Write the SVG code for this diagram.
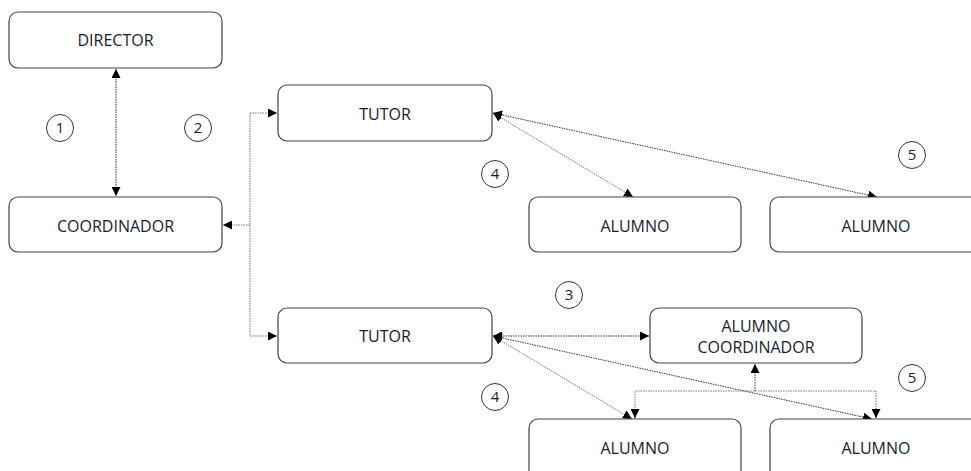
<svg xmlns="http://www.w3.org/2000/svg" width="971" height="471" viewBox="0 0 971 471">
<defs>
<marker id="ah" viewBox="0 0 10 10" refX="10" refY="5" markerWidth="9" markerHeight="9" markerUnits="userSpaceOnUse" orient="auto-start-reverse">
<path d="M0,0 L10,5 L0,10 z" fill="#000"/>
</marker>
<style>
.box{fill:#fff;stroke:#444;stroke-width:1.2}
.t{font-family:"Open Sans","Liberation Sans",sans-serif;font-size:16px;fill:#1b1b2e;text-anchor:middle}
.c{fill:#fff;stroke:#333;stroke-width:1}
.n{font-family:"Open Sans","Liberation Sans",sans-serif;font-size:15px;fill:#1b1b2e;text-anchor:middle}
.ln{fill:none;stroke:#777;stroke-width:1;stroke-dasharray:1.5 1}
.dk{stroke:#333}
</style>
</defs>
<rect width="971" height="471" fill="#fff"/>
<g id="connectors">
<line class="ln dk" x1="116" y1="69" x2="116" y2="196" marker-start="url(#ah)" marker-end="url(#ah)"/>
<path class="ln" d="M250,225 H223" marker-end="url(#ah)"/>
<path class="ln" d="M250,113 V336"/>
<path class="ln" d="M250,113 H277" marker-end="url(#ah)"/>
<path class="ln" d="M250,336 H277" marker-end="url(#ah)"/>
<line class="ln" x1="493" y1="113" x2="633" y2="197" marker-start="url(#ah)" marker-end="url(#ah)"/>
<line class="ln dk" x1="493" y1="113" x2="877" y2="197" marker-start="url(#ah)" marker-end="url(#ah)"/>
<line class="ln dk" x1="493" y1="336" x2="649" y2="336" marker-start="url(#ah)" marker-end="url(#ah)"/>
<line class="ln" x1="493" y1="336" x2="632" y2="419" marker-start="url(#ah)" marker-end="url(#ah)"/>
<line class="ln dk" x1="493" y1="336" x2="872" y2="419" marker-start="url(#ah)" marker-end="url(#ah)"/>
<path class="ln dk" d="M755,391 V364" marker-end="url(#ah)"/>
<path class="ln" d="M635,418 V391 H876 V418"/>
<path class="ln dk" d="M635,409 V418" marker-end="url(#ah)"/>
<path class="ln dk" d="M876,409 V418" marker-end="url(#ah)"/>
</g>
<g id="director"><rect class="box" x="9" y="12" width="213" height="56" rx="9"/><text class="t" x="115.5" y="46">DIRECTOR</text></g>
<g id="coordinador"><rect class="box" x="9" y="197" width="213" height="55" rx="9"/><text class="t" x="115.5" y="232">COORDINADOR</text></g>
<g id="tutor1"><rect class="box" x="278" y="85" width="214" height="56" rx="9"/><text class="t" x="385" y="120">TUTOR</text></g>
<g id="tutor2"><rect class="box" x="278" y="308" width="214" height="55" rx="9"/><text class="t" x="385" y="342">TUTOR</text></g>
<g id="alumno1"><rect class="box" x="529" y="197" width="212" height="55" rx="9"/><text class="t" x="635" y="232">ALUMNO</text></g>
<g id="alumno2"><rect class="box" x="770" y="197" width="212" height="55" rx="9"/><text class="t" x="876" y="232">ALUMNO</text></g>
<g id="alumnoCoord"><rect class="box" x="650" y="308" width="212" height="55" rx="9"/><text class="t" x="756" y="332">ALUMNO</text><text class="t" x="756" y="353">COORDINADOR</text></g>
<g id="alumno3"><rect class="box" x="529" y="419" width="212" height="60" rx="9"/><text class="t" x="635" y="454">ALUMNO</text></g>
<g id="alumno4"><rect class="box" x="770" y="419" width="212" height="60" rx="9"/><text class="t" x="876" y="454">ALUMNO</text></g>
<g id="n1"><circle class="c" cx="60" cy="128" r="13.5"/><text class="n" x="60" y="133">1</text></g>
<g id="n2"><circle class="c" cx="198" cy="128" r="13.5"/><text class="n" x="198" y="133">2</text></g>
<g id="n4a"><circle class="c" cx="495" cy="174" r="13.5"/><text class="n" x="495" y="179">4</text></g>
<g id="n5a"><circle class="c" cx="912" cy="155" r="13.5"/><text class="n" x="912" y="160">5</text></g>
<g id="n3"><circle class="c" cx="569" cy="295" r="13.5"/><text class="n" x="569" y="300">3</text></g>
<g id="n5b"><circle class="c" cx="912" cy="378" r="13.5"/><text class="n" x="912" y="383">5</text></g>
<g id="n4b"><circle class="c" cx="495" cy="397" r="13.5"/><text class="n" x="495" y="402">4</text></g>
</svg>
